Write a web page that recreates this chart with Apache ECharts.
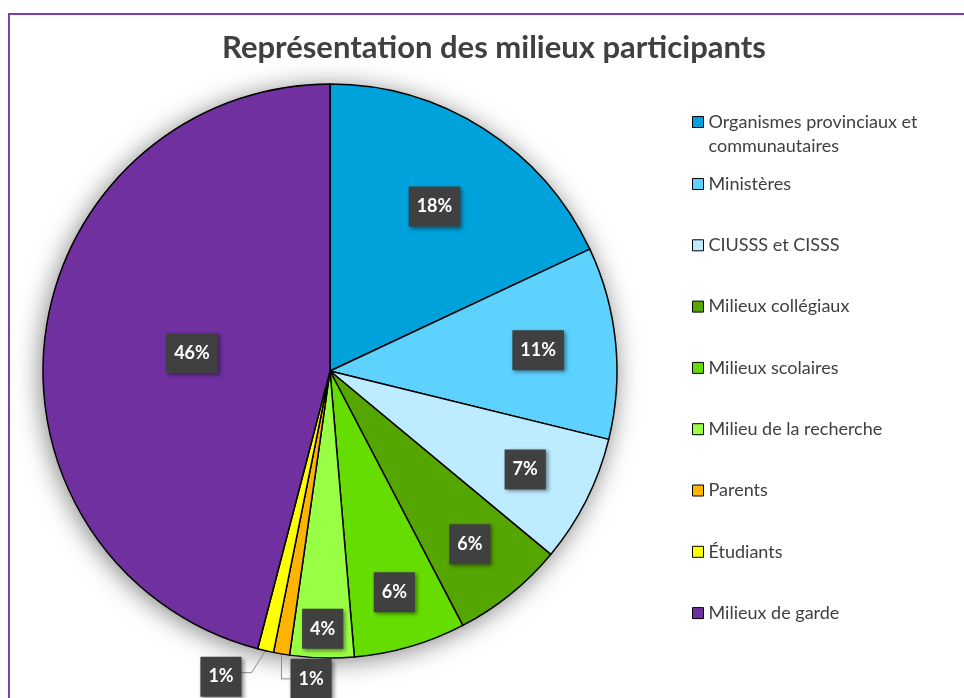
<!DOCTYPE html>
<html>
<head>
<meta charset="utf-8">
<script src="https://cdn.jsdelivr.net/npm/echarts@6/dist/echarts.min.js"></script>
<style>
html, body { margin: 0; padding: 0; background: #fff; overflow: hidden; }
#graphique { width: 964px; height: 698px; }
/* cadre violet (seulement haut et gauche visibles) */
#cadre { position: absolute; left: 8px; top: 13px; width: 1000px; height: 800px;
         border-left: 2px solid #7b3db8; border-top: 2px solid #7b3db8; pointer-events: none; }
</style>
</head>
<body>
<div id="graphique"></div>
<div id="cadre"></div>
<script>
var titre = 'Représentation des milieux participants';
var categories = [
    'Organismes provinciaux et communautaires',
    'Ministères',
    'CIUSSS et CISSS',
    'Milieux collégiaux',
    'Milieux scolaires',
    'Milieu de la recherche',
    'Parents',
    'Étudiants',
    'Milieux de garde'
];
var valeurs = [20, 12, 8, 7, 7, 4, 1, 1, 51];
var couleurs = ['#00a2db', '#5dd2ff', '#bdebff', '#55a600', '#66dd00', '#99ff44', '#ffb400', '#ffff00', '#7030a0'];

// mise en page
var CX = 330, CY = 371, R = 287;
var police = 'Lato';
// distance des etiquettes internes (fraction du rayon), comme le "meilleur ajustement" d'Excel
var rayonEtiquette = [0.665, 0.714, 0.746, 0.76, 0.786, 0.88, 0, 0, 0.475];

var chart = echarts.init(document.getElementById('graphique'));

var donnees = categories.map(function (nom, i) {
    var d = { name: nom, value: valeurs[i] };
    if (i === 6 || i === 7) {
        d.label = { position: 'outside' };
        d.labelLine = { show: true };
    }
    return d;
});

function placerEtiquette(p) {
    var i = p.dataIndex;
    if (i === 6 || i === 7) {
        var p0 = p.labelLinePoints ? p.labelLinePoints[0] : [CX, CY + R];
        if (i === 6) {
            return {
                x: p0[0] + 9, y: p0[1] + 25, align: 'left', verticalAlign: 'middle',
                labelLinePoints: [p0, [p0[0], p0[1] + 25], [p0[0] + 9, p0[1] + 25]]
            };
        }
        return {
            x: p0[0] - 24, y: p0[1] + 26, align: 'right', verticalAlign: 'middle',
            labelLinePoints: [p0, [p0[0] - 14, p0[1] + 22], [p0[0] - 24, p0[1] + 22]]
        };
    }
    var lx = p.labelRect.x + p.labelRect.width / 2;
    var ly = p.labelRect.y + p.labelRect.height / 2;
    var k = rayonEtiquette[i] / 0.5;
    return { x: CX + (lx - CX) * k, y: CY + (ly - CY) * k, align: 'center', verticalAlign: 'middle' };
}

var legendeTexte = { fontFamily: police, fontSize: 18, color: '#404040', lineHeight: 24 };

var option = {
    animation: false,
    backgroundColor: 'transparent',
    title: {
        text: titre,
        left: 222,
        top: 32,
        padding: 0,
        textStyle: { fontFamily: police, fontSize: 31, fontWeight: 'bold', color: '#404040' }
    },
    legend: [{
        data: [categories[0]],
        orient: 'vertical',
        left: 692,
        top: 86,
        padding: 0,
        icon: 'rect',
        itemWidth: 11,
        itemHeight: 11,
        itemStyle: { borderColor: '#000', borderWidth: 1 },
        // ligne vide au-dessus : la 1re ligne du texte reste alignee sur le carre
        formatter: function (nom) { return '\n' + nom.replace(' et ', ' et\n'); },
        textStyle: legendeTexte
    }, {
        data: categories.slice(1),
        orient: 'vertical',
        left: 692,
        top: 172,
        padding: 0,
        itemGap: 37.3,
        icon: 'rect',
        itemWidth: 11,
        itemHeight: 11,
        itemStyle: { borderColor: '#000', borderWidth: 1 },
        textStyle: legendeTexte
    }],
    series: [{
        // fond avec ombre sous le disque
        type: 'pie',
        silent: true,
        z: 1,
        center: [CX, CY],
        radius: R,
        data: [{ name: 'fond', value: 1 }],
        label: { show: false },
        labelLine: { show: false },
        emphasis: { disabled: true },
        itemStyle: { color: '#fff', shadowBlur: 26, shadowColor: 'rgba(0,0,0,0.5)', shadowOffsetX: -2, shadowOffsetY: 3 }
    }, {
        type: 'pie',
        z: 2,
        center: [CX, CY],
        radius: R,
        startAngle: 90,
        clockwise: true,
        percentPrecision: 0,
        color: couleurs,
        data: donnees,
        itemStyle: { borderColor: '#000', borderWidth: 1.5 },
        label: {
            show: true,
            position: 'inside',
            formatter: '{d}%',
            fontFamily: police,
            fontSize: 18,
            fontWeight: 'bold',
            color: '#fff',
            lineHeight: 22,
            backgroundColor: '#404040',
            padding: [9, 8, 9, 8],
            shadowColor: 'rgba(0,0,0,0.45)',
            shadowBlur: 4,
            shadowOffsetX: 2,
            shadowOffsetY: 2
        },
        labelLine: { show: false, lineStyle: { color: '#8c8c8c', width: 1 } },
        labelLayout: placerEtiquette
    }]
};

chart.setOption(option);
window.onresize = function () { chart.resize(); };
</script>
</body>
</html>
